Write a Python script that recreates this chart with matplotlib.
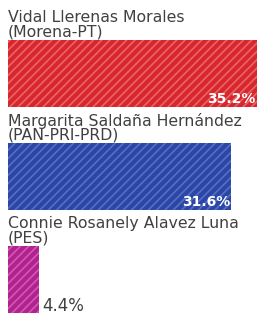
import matplotlib.pyplot as plt

plt.rcParams['font.family'] = ['DejaVu Sans']
plt.rcParams['hatch.linewidth'] = 1.2

names = ['Vidal Llerenas Morales', 'Margarita Saldaña Hernández', 'Connie Rosanely Alavez Luna']
parties = ['(Morena-PT)', '(PAN-PRI-PRD)', '(PES)']
votes = [35.2, 31.6, 4.4]
colors = ['#d8262c', '#2b46a6', '#b3218f']
hatch_colors = ['#e8666a', '#5670c4', '#cf5ab4']

fig = plt.figure(figsize=(2.64, 3.16), dpi=100)
ax = fig.add_axes([0, 0, 1, 1])

for i, (n, p, v) in enumerate(zip(names, parties, votes)):
    ax.barh(i, v, height=0.65, color=colors[i], edgecolor=hatch_colors[i],
            linewidth=0, hatch='////')
    ax.text(0, i - 0.54, n, fontsize=11.3, color='#404040', va='center', ha='left')
    ax.text(0, i - 0.40, p, fontsize=11.3, color='#404040', va='center', ha='left')
    if v > 10:
        ax.text(v - 0.2, i + 0.25, f'{v}%', fontsize=10, color='white',
                va='center', ha='right', fontweight='bold')
    else:
        ax.text(v + 0.5, i + 0.26, f'{v}%', fontsize=12, color='#404040',
                va='center', ha='left')

ax.set_xlim(-1.13, 36.2)
ax.set_ylim(2.354, -0.714)
ax.axis('off')

plt.savefig('out.png', dpi=100)
